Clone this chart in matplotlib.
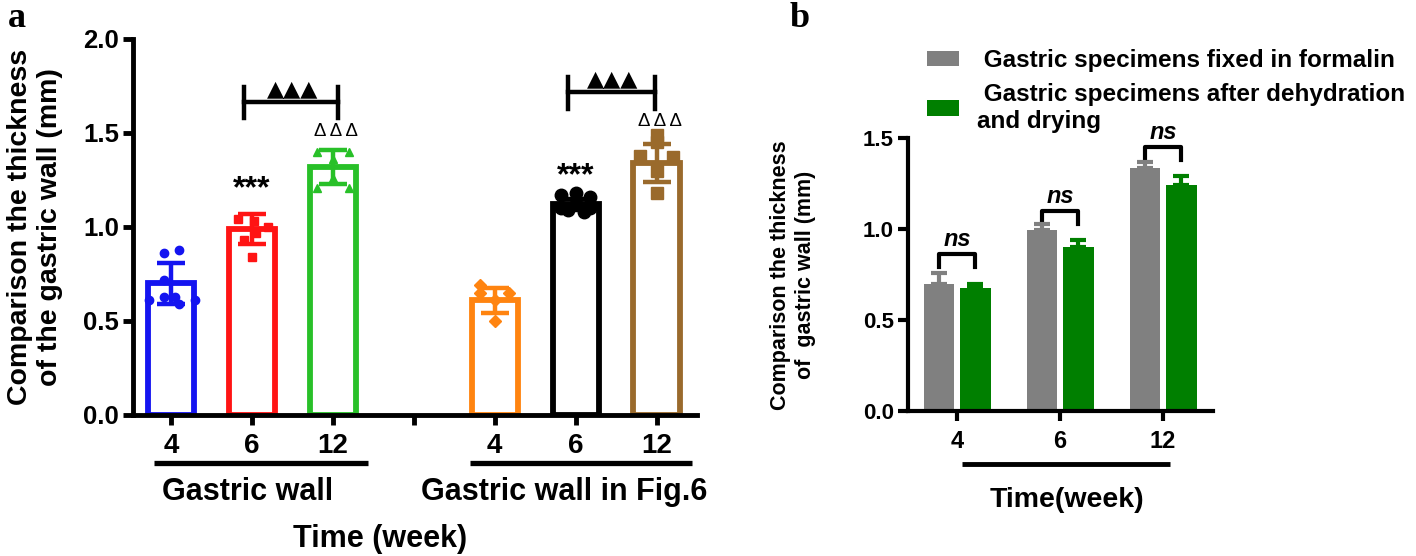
import numpy as np
import matplotlib
matplotlib.use("Agg")
import matplotlib.pyplot as plt
import matplotlib.transforms as mtransforms

plt.rcParams.update({
    "font.family": ["Liberation Sans", "DejaVu Sans"],
    "font.weight": "bold",
    "axes.linewidth": 3.5,
})

W, H = 1416, 556

# ---------------------------------------------------------------- data, panel a
a_ticks = ["4", "6", "12", "", "4", "6", "12"]
a_groups = ["Gastric wall", "Gastric wall in Fig.6"]
a_means = [0.70, 0.99, 1.32, 0.61, 1.12, 1.34]
a_sd = [0.11, 0.08, 0.09, 0.065, 0.03, 0.10]
a_points = [
    [0.86, 0.88, 0.72, 0.63, 0.63, 0.61, 0.61, 0.59],
    [1.04, 1.03, 1.00, 0.97, 0.93, 0.84],
    [1.40, 1.40, 1.36, 1.26, 1.21, 1.21],
    [0.69, 0.65, 0.65, 0.61, 0.50],
    [1.18, 1.17, 1.16, 1.12, 1.10, 1.10, 1.09, 1.08],
    [1.49, 1.45, 1.38, 1.37, 1.30, 1.18],
]
# horizontal scatter of the dots inside each bar
a_jitter = [
    [-0.09, 0.10, -0.09, -0.09, 0.05, -0.27, 0.30, 0.10],
    [-0.17, 0.03, 0.20, 0.05, -0.10, 0.0],
    [-0.20, 0.20, 0.0, 0.0, -0.20, 0.20],
    [-0.18, -0.18, 0.18, 0.0, 0.0],
    [0.0, -0.18, 0.18, 0.0, -0.18, 0.18, -0.10, 0.10],
    [0.0, 0.0, -0.20, 0.20, 0.0, 0.0],
]
a_colors = ["#1414f0", "#ff1414", "#28c028", "#ff8410", "#000000", "#9a6a2c"]
a_markers = ["o", "s", "^", "D", "o", "s"]
a_msize = [6, 6, 6, 6, 9, 8]

# ---------------------------------------------------------------- data, panel b
b_weeks = ["4", "6", "12"]
b_labels = [" Gastric specimens fixed in formalin",
            " Gastric specimens after dehydration\nand drying"]
b_formalin = [0.70, 0.995, 1.335]
b_formalin_err = [0.06, 0.035, 0.035]
b_dried = [0.675, 0.90, 1.24]
b_dried_err = [0.025, 0.04, 0.05]
b_ns_y = [0.86, 1.10, 1.45]

GRAY = "#808080"
DGREEN = "#007f00"


def px_axes(l, r, b, t):
    return [l / W, (H - b) / H, (r - l) / W, (b - t) / H]


fig = plt.figure(figsize=(W / 100, H / 100), dpi=100)

# ================================================================= panel a
ax = fig.add_axes(px_axes(133, 697, 415, 39))
xpos = [1, 2, 3, 5, 6, 7]
for i, x in enumerate(xpos):
    c = a_colors[i]
    ax.bar(x, a_means[i], width=0.57, facecolor="white", edgecolor=c,
           linewidth=4.2, zorder=2)
    ax.errorbar(x, a_means[i], yerr=a_sd[i], color=c, elinewidth=3.2,
                capsize=10, capthick=3.2, zorder=3)
    ax.plot(np.array(a_jitter[i]) + x, a_points[i], ls="none",
            marker=a_markers[i], ms=a_msize[i], color=c, zorder=4,
            clip_on=False)

ax.set_xlim(0.53, 7.5)
ax.set_ylim(0, 2.0)
ax.set_yticks([0, 0.5, 1.0, 1.5, 2.0])
ax.set_yticklabels(["0.0", "0.5", "1.0", "1.5", "2.0"])
ax.set_xticks([1, 2, 3, 4, 5, 6, 7])
ax.set_xticklabels(a_ticks)
ax.tick_params(axis="y", length=7, width=3.5, pad=3, labelsize=18.5)
ax.tick_params(axis="x", length=7, width=3.5, pad=6, labelsize=20)
for s in ("top", "right"):
    ax.spines[s].set_visible(False)

tr = mtransforms.blended_transform_factory(ax.transData, ax.transAxes)
for (x0, x1), name, cx in zip([(0.79, 3.43), (4.69, 7.44)], a_groups,
                              [1.95, 5.86]):
    ax.plot([x0, x1], [-0.128, -0.128], color="black", lw=3.8,
            transform=tr, clip_on=False, solid_capstyle="butt")
    ax.text(cx, -0.205, name, transform=tr, ha="center", va="center",
            fontsize=22)
ax.text(3.58, -0.33, "Time (week)", transform=tr, ha="center", va="center",
        fontsize=22)

# significance marks
for xl, xr, yh, ylo, yhi, tri_y, dd_y, st_y, stx in [
        (1.9, 3.06, 1.665, 1.58, 1.745, 1.73, 1.51, 1.20, 2),
        (5.9, 6.98, 1.72, 1.63, 1.80, 1.785, 1.56, 1.27, 6)]:
    ax.plot([xl, xr], [yh, yh], color="black", lw=3.2, clip_on=False)
    ax.plot([xl, xl], [ylo, yhi], color="black", lw=3.2, clip_on=False)
    ax.plot([xr, xr], [ylo, yhi], color="black", lw=3.2, clip_on=False)
    ax.text((xl + xr) / 2 + 0.02, tri_y, "▲▲▲", ha="center", va="center",
            fontsize=16, family="DejaVu Sans")
    ax.text(stx + 1 + 0.04, dd_y, "Δ Δ Δ", ha="center", va="center",
            fontsize=13.5, fontweight="normal")
    ax.text(stx, st_y, "***", ha="center", va="center", fontsize=23)

fig.text(35 / W, (H - 227) / H,
         "Comparison the thickness\nof the gastric wall (mm)",
         rotation=90, ha="center", va="center", fontsize=20.5,
         multialignment="center")
fig.text(8 / W, 1 - 2 / H, "a", ha="left", va="top", fontsize=26,
         family="Liberation Serif")

# ================================================================= panel b
bx = fig.add_axes(px_axes(908, 1213, 411, 138))
xb = np.arange(len(b_weeks))
off = 0.175
bars1 = bx.bar(xb - off, b_formalin, width=0.30, color=GRAY, zorder=2,
               label=b_labels[0])
bars2 = bx.bar(xb + off, b_dried, width=0.30, color=DGREEN, zorder=2,
               label=b_labels[1])
bx.errorbar(xb - off, b_formalin, yerr=[np.zeros(3), b_formalin_err],
            ls="none", color=GRAY, elinewidth=3, capsize=6, capthick=3,
            zorder=3)
bx.errorbar(xb + off, b_dried, yerr=[np.zeros(3), b_dried_err],
            ls="none", color=DGREEN, elinewidth=3, capsize=6, capthick=3,
            zorder=3)
for i, yh in enumerate(b_ns_y):
    bx.plot([i - off, i - off, i + off, i + off],
            [yh - 0.07, yh, yh, yh - 0.07], color="black", lw=3,
            clip_on=False)
    bx.text(i, yh + 0.08, "ns", ha="center", va="center", fontsize=17,
            style="italic")

bx.set_xlim(-0.476, 2.485)
bx.set_ylim(0, 1.5)
bx.set_yticks([0, 0.5, 1.0, 1.5])
bx.set_yticklabels(["0.0", "0.5", "1.0", "1.5"])
bx.set_xticks(xb)
bx.set_xticklabels(b_weeks)
bx.tick_params(axis="y", length=7, width=3, pad=3, labelsize=16)
bx.tick_params(axis="x", length=7, width=3, pad=7, labelsize=17)
for s in ("top", "right"):
    bx.spines[s].set_visible(False)
for s in ("left", "bottom"):
    bx.spines[s].set_linewidth(3)

trb = mtransforms.blended_transform_factory(bx.transData, bx.transAxes)
bx.plot([0.05, 2.07], [-0.194, -0.194], color="black", lw=3.5,
        transform=trb, clip_on=False, solid_capstyle="butt")
bx.text(1.07, -0.326, "Time(week)", transform=trb, ha="center",
        va="center", fontsize=20.5)

fig.text(793 / W, (H - 275) / H,
         "Comparison the thickness\nof  gastric wall (mm)",
         rotation=90, ha="center", va="center", fontsize=15.5,
         multialignment="center")
fig.text(790 / W, 1 - 2 / H, "b", ha="left", va="top", fontsize=26,
         family="Liberation Serif")

fig.legend(handles=[bars1, bars2], loc="upper left",
           bbox_to_anchor=(927 / W, 1 - 49 / H), frameon=False,
           fontsize=17.5, handlelength=1.32, handleheight=0.62,
           handletextpad=0.75, labelspacing=0.45, borderpad=0,
           borderaxespad=0)

fig.savefig("out.png", dpi=100)
